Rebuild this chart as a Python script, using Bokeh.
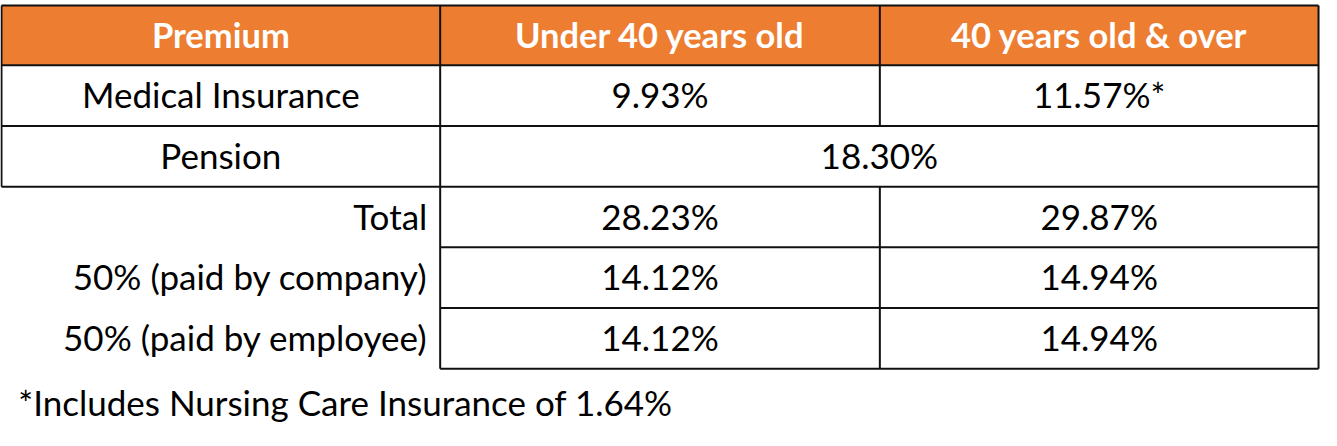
from bokeh.plotting import figure
from bokeh.models import Range1d
from bokeh.core.properties import value
from bokeh.embed import file_html
from bokeh.resources import INLINE

# ---- data ----
headers = ["Premium", "Under 40 years old", "40 years old & over"]
row_labels = ["Medical Insurance", "Pension", "Total",
              "50% (paid by company)", "50% (paid by employee)"]
under40 = ["9.93%", "18.30%", "28.23%", "14.12%", "14.12%"]
over40 = ["11.57%*", "18.30%", "29.87%", "14.94%", "14.94%"]
merged = [False, True, False, False, False]
footnote = "*Includes Nursing Care Insurance of 1.64%"

# ---- layout (reference pixel coordinates) ----
col_edges = [1, 445, 890, 1334]
row_edges = [5, 65, 126, 187, 248, 309, 370]
ORANGE = "#ED7D31"
LINE = "#111111"
FONT = "Lato"
BODY_SIZE = "35px"
HEAD_SIZE = "34.5px"
BASE_OFF = 29

p = figure(width=1321, height=430, x_range=Range1d(0, 1337), y_range=Range1d(432, 0),
           output_backend="svg", toolbar_location=None, min_border=0)
p.xaxis.visible = False
p.yaxis.visible = False
p.xgrid.visible = False
p.ygrid.visible = False
p.outline_line_color = None
p.background_fill_color = "white"
p.border_fill_color = "white"

# header fill
p.quad(left=[col_edges[0]], right=[col_edges[-1]], top=[row_edges[0]], bottom=[row_edges[1]],
       fill_color=ORANGE, line_color=None)

# header text
hx = [(col_edges[i] + col_edges[i + 1]) / 2 for i in range(3)]
p.text(x=hx, y=[row_edges[0] + BASE_OFF] * 3, text=headers, text_align="center",
       text_baseline="alphabetic", text_font=value(FONT), text_font_style="bold",
       text_font_size=HEAD_SIZE, text_color="white")

# body text
n_bordered = 2  # rows with label cell borders
lx, ly, lt, la = [], [], [], []
vx, vy, vt = [], [], []
for i, lab in enumerate(row_labels):
    base = row_edges[i + 1] + BASE_OFF
    if i < n_bordered:
        lx.append((col_edges[0] + col_edges[1]) / 2); la.append("center")
    else:
        lx.append(432); la.append("right")
    ly.append(base); lt.append(lab)
    if merged[i]:
        vx.append((col_edges[1] + col_edges[3]) / 2); vy.append(base); vt.append(under40[i])
    else:
        vx += [(col_edges[1] + col_edges[2]) / 2, (col_edges[2] + col_edges[3]) / 2]
        vy += [base, base]
        vt += [under40[i], over40[i]]

p.text(x=lx, y=ly, text=lt, text_align=la, text_baseline="alphabetic",
       text_font=value(FONT), text_font_size=BODY_SIZE, text_color="black")
p.text(x=vx, y=vy, text=vt, text_align="center", text_baseline="alphabetic",
       text_font=value(FONT), text_font_size=BODY_SIZE, text_color="black")
p.text(x=[18], y=[row_edges[6] + BASE_OFF + 4], text=[footnote], text_align="left",
       text_baseline="alphabetic", text_font=value(FONT), text_font_size=BODY_SIZE,
       text_color="black")

# grid lines
x0s, y0s, x1s, y1s = [], [], [], []
for j, y in enumerate(row_edges):
    if j <= 3:
        x0s.append(col_edges[0]); x1s.append(col_edges[3])
    else:
        x0s.append(col_edges[1]); x1s.append(col_edges[3])
    y0s.append(y); y1s.append(y)

def vseg(x, ya, yb):
    x0s.append(x); x1s.append(x); y0s.append(ya); y1s.append(yb)

vseg(col_edges[0], row_edges[0], row_edges[3])
vseg(col_edges[1], row_edges[0], row_edges[6])
vseg(col_edges[3], row_edges[0], row_edges[6])
vseg(col_edges[2], row_edges[0], row_edges[1])
for i in range(5):
    if not merged[i]:
        vseg(col_edges[2], row_edges[i + 1], row_edges[i + 2])

p.segment(x0=x0s, y0=y0s, x1=x1s, y1=y1s, line_color=LINE, line_width=2)

open("out.html", "w").write(file_html(p, INLINE))
